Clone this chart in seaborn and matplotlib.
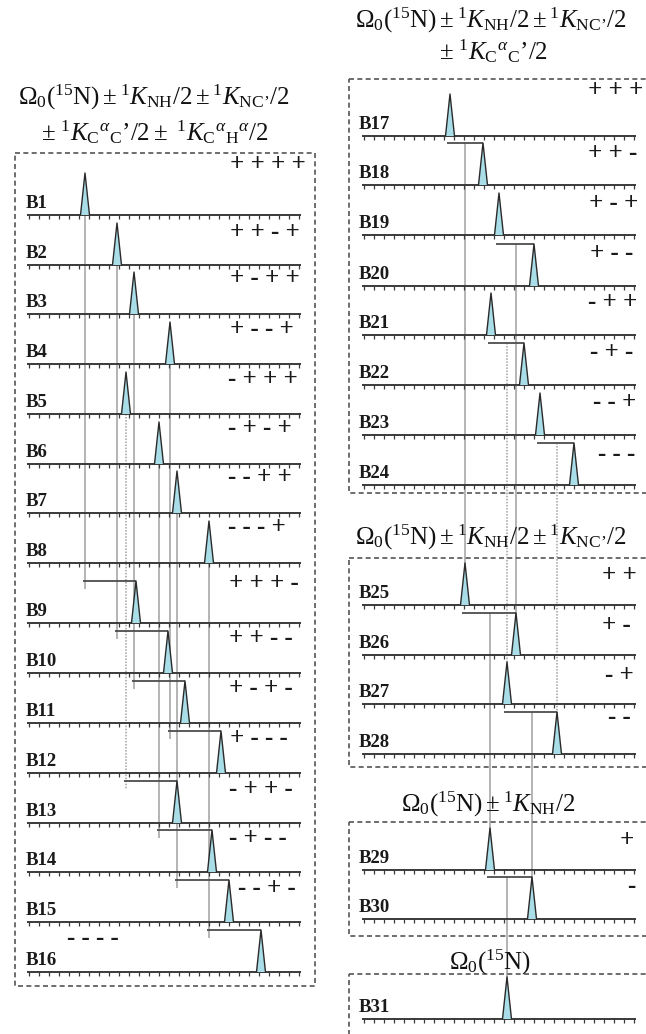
import numpy as np
import pandas as pd
import matplotlib
matplotlib.use("Agg")
import matplotlib.pyplot as plt
import seaborn as sns

sns.set_theme(style="white")
plt.rcParams['font.family'] = ['Liberation Serif', 'DejaVu Serif']
plt.rcParams['mathtext.fontset'] = 'custom'
plt.rcParams['mathtext.rm'] = 'Liberation Serif'
plt.rcParams['mathtext.it'] = 'Liberation Serif:italic'
plt.rcParams['mathtext.bf'] = 'Liberation Serif:bold'

# ---------------- data ----------------
left_labels = [f"B{i}" for i in range(1, 17)]
left_signs = ["+ + + +", "+ + - +", "+ - + +", "+ - - +", "- + + +", "- + - +", "- - + +", "- - - +",
              "+ + + -", "+ + - -", "+ - + -", "+ - - -", "- + + -", "- + - -", "- - + -", "- - - -"]
left_peaks = [85, 117, 134, 170, 126, 159, 177, 209, 136, 168, 185, 221, 177, 212, 229, 261]

r1_labels = [f"B{i}" for i in range(17, 25)]
r1_signs = ["+ + +", "+ + -", "+ - +", "+ - -", "- + +", "- + -", "- - +", "- - -"]
r1_peaks = [450, 483, 499, 534, 491, 524, 540, 574]

r2_labels = ["B25", "B26", "B27", "B28"]
r2_signs = ["+ +", "+ -", "- +", "- -"]
r2_peaks = [465, 516, 507, 557]

r3_labels = ["B29", "B30"]
r3_signs = ["+", "-"]
r3_peaks = [490, 532]

r4_labels = ["B31"]
r4_signs = [""]
r4_peaks = [507]

KCC = r"{}^{1}K_{\mathrm{C}}{}^{\alpha}{}_{\mathrm{C}}’/2"
KCH = r"{}^{1}K_{\mathrm{C}}{}^{\alpha}{}_{\mathrm{H}}{}^{\alpha}/2"
title_left = [r"$\Omega_0({}^{15}\mathrm{N}) \pm {}^{1}K_{\mathrm{NH}}/2 \pm {}^{1}K_{\mathrm{NC’}}/2$",
              r"$\pm\ " + KCC + r" \pm\ " + KCH + "$"]
title_r1 = [r"$\Omega_0({}^{15}\mathrm{N}) \pm {}^{1}K_{\mathrm{NH}}/2 \pm {}^{1}K_{\mathrm{NC’}}/2$",
            r"$\pm\ " + KCC + "$"]
title_r2 = [r"$\Omega_0({}^{15}\mathrm{N}) \pm {}^{1}K_{\mathrm{NH}}/2 \pm {}^{1}K_{\mathrm{NC’}}/2$"]
title_r3 = [r"$\Omega_0({}^{15}\mathrm{N}) \pm {}^{1}K_{\mathrm{NH}}/2$"]
title_r4 = [r"$\Omega_0({}^{15}\mathrm{N})$"]

# ---------------- layout (pixel space) ----------------
W, H = 646, 1034
PEAK_H, PEAK_HW = 42, 4.5

panels = [
    dict(labels=left_labels, signs=left_signs, peaks=left_peaks,
         base=[215, 265, 314, 364, 414, 464, 513, 563, 623, 673, 723, 773, 823, 872, 922, 972],
         x0=27, x1=301, lab_x=26,
         sign_x=[230, 230, 230, 230, 228, 228, 228, 228, 229, 229, 229, 230, 229, 229, 238, 67],
         sign_y=[171, 239, 285, 336, 386, 435, 484, 534, 590, 645, 695, 745, 796, 845, 895, 945]),
    dict(labels=r1_labels, signs=r1_signs, peaks=r1_peaks,
         base=[136, 185, 235, 286, 335, 385, 435, 485], x0=362, x1=636, lab_x=359,
         sign_x=[588, 588, 589, 590, 588, 590, 593, 598],
         sign_y=[97, 160, 210, 260, 309, 359, 409, 461]),
    dict(labels=r2_labels, signs=r2_signs, peaks=r2_peaks,
         base=[605, 655, 704, 754], x0=362, x1=636, lab_x=359,
         sign_x=[602, 602, 605, 608], sign_y=[582, 632, 682, 724]),
    dict(labels=r3_labels, signs=r3_signs, peaks=r3_peaks,
         base=[870, 919], x0=362, x1=636, lab_x=359,
         sign_x=[620, 627], sign_y=[847, 893]),
    dict(labels=r4_labels, signs=r4_signs, peaks=r4_peaks,
         base=[1019], x0=362, x1=636, lab_x=359, sign_x=[620], sign_y=[990]),
]

fig = plt.figure(figsize=(W / 100, H / 100), dpi=100)
ax = fig.add_axes([0, 0, 1, 1])

PEAK_FILL = "#a9dde7"
EDGE = "#2a2a2a"
GUIDE = "#a0a0a0"
BRK = "#4d4d4d"

# ---- peaks via seaborn (outline) + fill ----
tri_rows = []
pid = 0
for p in panels:
    for x, b in zip(p["peaks"], p["base"]):
        for vx, vy in [(x - PEAK_HW, b), (x, b - PEAK_H), (x + PEAK_HW, b)]:
            tri_rows.append(dict(peak=pid, vx=vx, vy=vy))
        ax.fill([x - PEAK_HW, x, x + PEAK_HW], [b, b - PEAK_H, b], color=PEAK_FILL, zorder=4, lw=0)
        pid += 1
tri_df = pd.DataFrame(tri_rows)
sns.lineplot(data=tri_df, x="vx", y="vy", units="peak", estimator=None, sort=False,
             color=EDGE, lw=1.0, ax=ax, legend=False, zorder=5)

# ---- baselines with ticks, labels, sign strings ----
for p in panels:
    ticks = np.arange(p["x0"] + 2, p["x1"], 10)
    for i, b in enumerate(p["base"]):
        ax.hlines(b, p["x0"], p["x1"], color="#3a3a3a", lw=1.4, zorder=3)
        ax.vlines(ticks, b, b + 4, color="#3a3a3a", lw=0.9, zorder=3)
        ax.text(p["lab_x"], b - 7, p["labels"][i], fontsize=13.5, fontweight="bold",
                ha="left", va="baseline", color="#1a1a1a", zorder=6)
        if p["signs"][i]:
            ax.text(p["sign_x"][i], p["sign_y"][i], p["signs"][i], fontsize=18, fontweight="bold",
                    ha="left", va="baseline", color="#1a1a1a", zorder=6)

# ---- left panel: guide lines and brackets (parent -> child) ----
L = panels[0]
for par in range(8):
    ch = par + 8
    xp, xc = L["peaks"][par], L["peaks"][ch]
    yb = L["base"][ch] - PEAK_H
    ls = (0, (1, 1)) if par == 4 else "-"
    ax.vlines(xp, L["base"][par], yb + 8, color=GUIDE, lw=1.1, linestyles=ls, zorder=1)
    ax.hlines(yb, xp - 2, xc, color=BRK, lw=1.3, zorder=2)

# ---- right panels: brackets and guide lines to the next level ----
chain = [(panels[1], panels[2]), (panels[2], panels[3]), (panels[3], panels[4])]
dotted_targets = {(1, 2), (1, 3)}
for k, (src, dst) in enumerate(chain):
    for j in range(len(dst["peaks"])):
        par, ch = 2 * j, 2 * j + 1
        xp, xc = src["peaks"][par], src["peaks"][ch]
        yb = src["base"][ch] - PEAK_H
        ax.hlines(yb, xp - 3, xc, color=BRK, lw=1.3, zorder=2)
        ls = (0, (1, 1)) if (k + 1, j) in dotted_targets else "-"
        ax.vlines(dst["peaks"][j], yb, dst["base"][j] - PEAK_H + 2, color=GUIDE, lw=1.1,
                  linestyles=ls, zorder=1)

# ---- dashed boxes ----
box_ls = (0, (3, 2))
def box(x0, x1, y0, y1):
    ax.plot([x0, x1, x1, x0, x0], [y0, y0, y1, y1, y0], color="#555555", lw=1.2,
            linestyle=box_ls, zorder=2)

box(15, 315, 153, 986)
box(349, 700, 79, 493)
box(349, 700, 558, 767)
box(349, 700, 822, 936)
box(349, 700, 974, 1100)

# ---- titles ----
TS = 18
ax.text(154, 105, title_left[0], fontsize=TS, ha="center", va="baseline", color="#111")
ax.text(155, 140, title_left[1], fontsize=TS, ha="center", va="baseline", color="#111")
ax.text(491, 28, title_r1[0], fontsize=TS, ha="center", va="baseline", color="#111")
ax.text(494, 59, title_r1[1], fontsize=TS, ha="center", va="baseline", color="#111")
ax.text(491, 545, title_r2[0], fontsize=TS, ha="center", va="baseline", color="#111")
ax.text(488, 812, title_r3[0], fontsize=TS, ha="center", va="baseline", color="#111")
ax.text(490, 970, title_r4[0], fontsize=TS, ha="center", va="baseline", color="#111")

ax.set_xlim(0, W)
ax.set_ylim(H, 0)
ax.axis("off")
fig.savefig("out.png", dpi=100, facecolor="white")
